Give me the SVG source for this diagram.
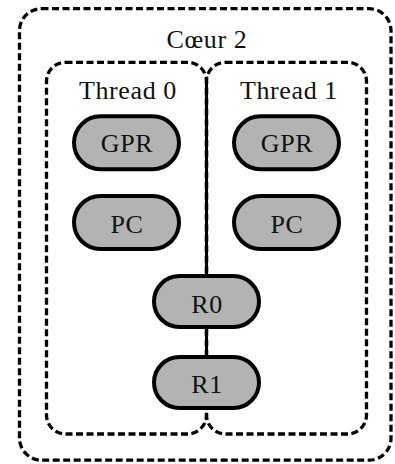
<svg xmlns="http://www.w3.org/2000/svg" width="395" height="464" viewBox="0 0 395 464">
  <style>
    .box { fill: none; stroke: #000; stroke-width: 3.3; stroke-dasharray: 7 3.5; }
    .node rect { fill: #b3b3b3; stroke: #000; stroke-width: 4; }
    .lbl { font-family: "Liberation Serif", "DejaVu Serif", serif; font-size: 26px; letter-spacing: 0.6px; fill: #111; text-anchor: middle; }
    .edge { stroke: #000; stroke-width: 3; fill: none; }
  </style>
  <rect width="395" height="464" fill="#fff"/>
  <g id="coeur2">
    <rect class="box" x="19.5" y="8.7" width="371.5" height="451.5" rx="22" ry="22"/>
    <text class="lbl" x="207" y="48.3">Cœur 2</text>
  </g>
  <g id="thread0">
    <rect class="box" x="46.5" y="62.3" width="160" height="371.7" rx="19" ry="19"/>
    <text class="lbl" x="128" y="99">Thread 0</text>
  </g>
  <g id="thread1">
    <rect class="box" x="206.5" y="62.3" width="160" height="371.7" rx="19" ry="19"/>
    <text class="lbl" x="289" y="99">Thread 1</text>
  </g>
  <g id="connectors">
    <line class="edge" x1="206.5" y1="79" x2="206.5" y2="277"/>
    <line class="edge" x1="206.5" y1="327" x2="206.5" y2="358"/>
  </g>
  <g id="gpr0" class="node">
    <rect x="74" y="116.3" width="105" height="53" rx="26.5" ry="26.5"/>
    <text class="lbl" x="127" y="152.3">GPR</text>
  </g>
  <g id="pc0" class="node">
    <rect x="74" y="196" width="105" height="53" rx="26.5" ry="26.5"/>
    <text class="lbl" x="127" y="233.3">PC</text>
  </g>
  <g id="gpr1" class="node">
    <rect x="234" y="116.3" width="105" height="53" rx="26.5" ry="26.5"/>
    <text class="lbl" x="287" y="152.3">GPR</text>
  </g>
  <g id="pc1" class="node">
    <rect x="234" y="196" width="105" height="53" rx="26.5" ry="26.5"/>
    <text class="lbl" x="287" y="233.3">PC</text>
  </g>
  <g id="r0" class="node">
    <rect x="154" y="276" width="105" height="51" rx="25.5" ry="25.5"/>
    <text class="lbl" x="207" y="313">R0</text>
  </g>
  <g id="r1" class="node">
    <rect x="154" y="357" width="105" height="51" rx="25.5" ry="25.5"/>
    <text class="lbl" x="207" y="393.3">R1</text>
  </g>
</svg>
